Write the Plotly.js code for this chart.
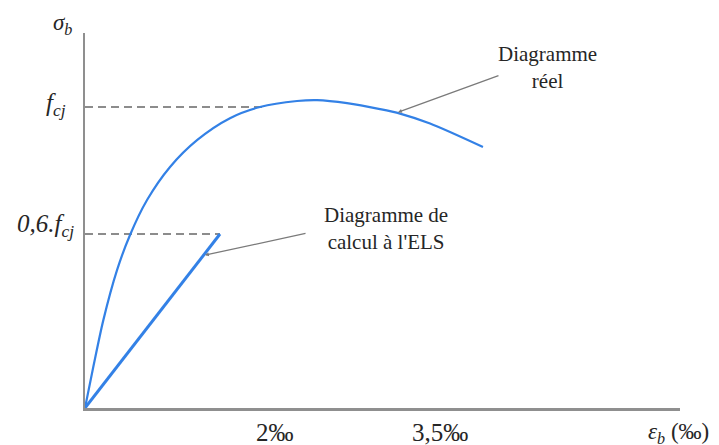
<!DOCTYPE html>
<html>
<head>
<meta charset="utf-8">
<script src="https://cdn.plot.ly/plotly-3.0.1.min.js"></script>
</head>
<body style="margin:0">
<div id="chart" style="width:719px;height:445px"></div>
<script>
// Strain (‰) and stress (in units of fcj)
var realStrain = [0, 0.087, 0.193, 0.337, 0.474, 0.653, 0.895, 1.179, 1.526, 1.842, 2.232, 2.442, 2.758, 3.105, 3.316, 3.632, 4.189];
var realStress = [0, 0.136, 0.292, 0.458, 0.575, 0.691, 0.801, 0.890, 0.963, 1.000, 1.020, 1.023, 1.013, 0.993, 0.978, 0.945, 0.867];
var elsStrain = [0, 1.421];
var elsStress = [0, 0.578];
var fcjLevel = 1.0;
var fcjDashEnd = 1.863;
var els06Level = 0.578;
var els06DashEnd = 1.421;
var tickPos = [2, 3.737];
var tickText = ["2‰", "3,5‰"];

var XMAX = 6.263, YMAX = 1.246;
function px(v) { return v / XMAX; }
function py(v) { return v / YMAX; }

var blue = "#3381e6";
var grey = "#8c8c8c";
var serif = "Liberation Serif, serif";
var txt = "#262626";

var traces = [
  {x: [0, fcjDashEnd], y: [fcjLevel, fcjLevel], mode: "lines", line: {color: grey, width: 2, dash: "8px,5px"}},
  {x: [0, els06DashEnd], y: [els06Level, els06Level], mode: "lines", line: {color: grey, width: 2, dash: "8px,5px"}},
  {x: realStrain, y: realStress, mode: "lines", line: {color: blue, width: 2.2, shape: "spline", smoothing: 0.8}},
  {x: elsStrain, y: elsStress, mode: "lines", line: {color: blue, width: 3}}
];

var ann = [];
for (var i = 0; i < tickPos.length; i++) {
  ann.push({x: px(tickPos[i]), y: py(-0.08), xref: "paper", yref: "paper", text: tickText[i], showarrow: false,
    font: {family: serif, size: 25, color: txt}, xanchor: "center", yanchor: "middle"});
}
ann.push({x: 1.052, y: py(-0.083), xref: "paper", yref: "paper", text: "<i>ε<sub>b</sub></i> (‰)", showarrow: false,
  font: {family: serif, size: 23, color: txt}, xanchor: "right", yanchor: "middle"});
ann.push({x: px(-0.242), y: py(1.276), xref: "paper", yref: "paper", text: "<i>σ<sub>b</sub></i>", showarrow: false,
  font: {family: serif, size: 23, color: txt}, xanchor: "center", yanchor: "middle"});
ann.push({x: px(-0.179), y: py(fcjLevel + 0.007), xref: "paper", yref: "paper", text: "<i>f<sub>cj</sub></i>", showarrow: false,
  font: {family: serif, size: 25, color: txt}, xanchor: "right", yanchor: "middle"});
ann.push({x: px(-0.095), y: py(els06Level + 0.027), xref: "paper", yref: "paper", text: "<i>0,6.f<sub>cj</sub></i>", showarrow: false,
  font: {family: serif, size: 25, color: txt}, xanchor: "right", yanchor: "middle"});
ann.push({x: 4.863, y: 1.13, xref: "x", yref: "y", text: "Diagramme<br>réel", showarrow: false, align: "center",
  font: {family: serif, size: 21, color: txt}, xanchor: "center", yanchor: "middle"});
ann.push({x: 3.168, y: 0.595, xref: "x", yref: "y", text: "Diagramme de<br>calcul à l'ELS", showarrow: false, align: "center",
  font: {family: serif, size: 21, color: txt}, xanchor: "center", yanchor: "middle"});
// leader lines
ann.push({x: 3.295, y: 0.983, ax: 4.368, ay: 1.106, xref: "x", yref: "y", axref: "x", ayref: "y", text: "",
  showarrow: true, arrowhead: 2, arrowsize: 0.6, arrowwidth: 1.3, arrowcolor: "#7a7a7a"});
ann.push({x: 1.263, y: 0.508, ax: 2.337, ay: 0.581, xref: "x", yref: "y", axref: "x", ayref: "y", text: "",
  showarrow: true, arrowhead: 2, arrowsize: 0.6, arrowwidth: 1.3, arrowcolor: "#7a7a7a"});

var layout = {
  width: 719, height: 445,
  margin: {l: 85, r: 39, t: 33, b: 37, pad: 0},
  showlegend: false,
  font: {family: serif},
  xaxis: {range: [0, XMAX], showline: true, linecolor: "#8f8f8f", linewidth: 2.5, showgrid: false, zeroline: false,
    showticklabels: false, ticks: ""},
  yaxis: {range: [0, YMAX], showline: true, linecolor: "#8f8f8f", linewidth: 2.5, showgrid: false, zeroline: false,
    showticklabels: false, ticks: ""},
  annotations: ann
};

Plotly.newPlot("chart", traces, layout, {staticPlot: true, displayModeBar: false});
</script>
</body>
</html>
